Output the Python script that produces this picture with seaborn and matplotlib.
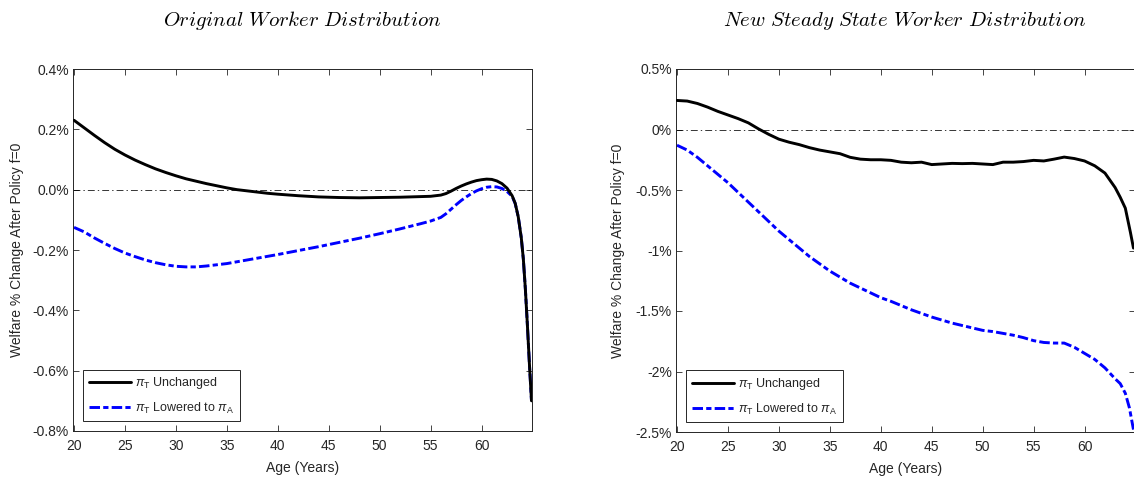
import numpy as np
import pandas as pd
import matplotlib
matplotlib.use("Agg")
import matplotlib.pyplot as plt
from matplotlib.ticker import FixedLocator, FixedFormatter
import seaborn as sns

# ---------------- data ----------------
left_black_age = [20, 21, 22, 23, 24, 25, 26, 27, 28, 29, 30, 31, 32, 33, 34, 35, 36, 37, 38, 39,
                  40, 42, 44, 46, 48, 50, 52, 54, 55, 56, 56.5, 57, 57.5, 58, 58.5, 59, 59.5, 60,
                  60.5, 61, 61.5, 62, 62.5, 63, 63.3, 63.6, 63.9, 64.1, 64.3, 64.5, 64.7, 64.9]
left_black_val = [0.230, 0.205, 0.180, 0.156, 0.134, 0.115, 0.098, 0.083, 0.069, 0.057, 0.046,
                  0.036, 0.028, 0.020, 0.013, 0.006, 0.000, -0.004, -0.008, -0.012, -0.015,
                  -0.020, -0.024, -0.026, -0.027, -0.026, -0.025, -0.023, -0.022, -0.018, -0.013,
                  -0.005, 0.004, 0.012, 0.019, 0.025, 0.030, 0.033, 0.035, 0.034, 0.029, 0.020,
                  0.005, -0.020, -0.045, -0.090, -0.160, -0.230, -0.330, -0.450, -0.580, -0.700]

left_blue_age = [20, 21, 22, 23, 24, 25, 26, 27, 28, 29, 30, 31, 32, 33, 34, 35, 36, 38, 40, 42,
                 44, 46, 48, 50, 52, 54, 55, 56, 56.5, 57, 57.5, 58, 58.5, 59, 59.5, 60, 60.5,
                 61, 61.5, 62, 62.5, 63, 63.3, 63.6, 63.9, 64.1, 64.3, 64.5, 64.7, 64.9]
left_blue_val = [-0.125, -0.140, -0.160, -0.178, -0.195, -0.210, -0.222, -0.233, -0.242, -0.249,
                 -0.254, -0.256, -0.256, -0.253, -0.249, -0.245, -0.239, -0.227, -0.215, -0.202,
                 -0.189, -0.175, -0.161, -0.146, -0.130, -0.113, -0.104, -0.092, -0.080, -0.065,
                 -0.050, -0.036, -0.024, -0.013, -0.004, 0.003, 0.008, 0.010, 0.009, 0.004,
                 -0.006, -0.022, -0.046, -0.090, -0.160, -0.230, -0.330, -0.450, -0.580, -0.700]

right_black_age = [20, 21, 22, 23, 24, 25, 26, 27, 27.5, 28, 29, 30, 31, 32, 33, 34, 35, 36, 37,
                   38, 39, 40, 41, 42, 43, 44, 45, 46, 47, 48, 49, 50, 51, 52, 53, 54, 55, 56,
                   57, 58, 59, 60, 61, 62, 62.5, 63, 63.5, 64, 64.5, 64.8]
right_black_val = [0.240, 0.235, 0.215, 0.185, 0.150, 0.120, 0.090, 0.055, 0.030, 0.005, -0.040,
                   -0.080, -0.105, -0.125, -0.150, -0.170, -0.185, -0.200, -0.230, -0.245,
                   -0.250, -0.250, -0.255, -0.270, -0.275, -0.270, -0.290, -0.285, -0.280,
                   -0.282, -0.280, -0.285, -0.290, -0.270, -0.270, -0.265, -0.255, -0.260,
                   -0.245, -0.228, -0.240, -0.260, -0.300, -0.360, -0.420, -0.480, -0.560,
                   -0.650, -0.850, -0.980]

right_blue_age = [20, 21, 22, 23, 24, 25, 26, 27, 28, 29, 30, 31, 32, 33, 34, 35, 36, 37, 38, 39,
                  40, 41, 42, 43, 44, 45, 46, 47, 48, 49, 50, 51, 52, 53, 54, 55, 56, 57, 58,
                  59, 60, 61, 62, 63, 63.5, 64, 64.4, 64.8]
right_blue_val = [-0.130, -0.170, -0.230, -0.300, -0.370, -0.440, -0.520, -0.600, -0.680, -0.760,
                  -0.840, -0.910, -0.980, -1.050, -1.110, -1.170, -1.220, -1.270, -1.310, -1.350,
                  -1.390, -1.420, -1.455, -1.490, -1.520, -1.550, -1.575, -1.600, -1.620, -1.640,
                  -1.660, -1.670, -1.685, -1.700, -1.720, -1.745, -1.760, -1.765, -1.765, -1.800,
                  -1.850, -1.900, -1.970, -2.060, -2.100, -2.180, -2.300, -2.480]

titles = ["Original Worker Distribution", "New Steady State Worker Distribution"]
series_labels = [r"$\pi_{\rm T}$ Unchanged", r"$\pi_{\rm T}$ Lowered to $\pi_{\rm A}$"]
x_ticks = [20, 25, 30, 35, 40, 45, 50, 55, 60]
left_yticks = [0.4, 0.2, 0.0, -0.2, -0.4, -0.6, -0.8]
left_yticklabels = ["0.4%", "0.2%", "0.0%", "-0.2%", "-0.4%", "-0.6%", "-0.8%"]
right_yticks = [0.5, 0.0, -0.5, -1.0, -1.5, -2.0, -2.5]
right_yticklabels = ["0.5%", "0%", "-0.5%", "-1%", "-1.5%", "-2%", "-2.5%"]
ylabel = "Welfare % Change After Policy f=0"
xlabel = "Age (Years)"

# ---------------- style ----------------
sns.set_style("ticks")
plt.rcParams["font.family"] = ["Liberation Sans", "DejaVu Sans"]
plt.rcParams["mathtext.fontset"] = "custom"
plt.rcParams["mathtext.rm"] = "Liberation Sans"
plt.rcParams["mathtext.it"] = "Liberation Sans:italic"
plt.rcParams["mathtext.bf"] = "Liberation Sans:bold"

AX_COL = "#262626"
W, H = 1134, 479
fig = plt.figure(figsize=(W / 100, H / 100), dpi=100)

def px_axes(x0, y0, x1, y1):
    return fig.add_axes([x0 / W, 1 - y1 / H, (x1 - x0) / W, (y1 - y0) / H])

ax_l = px_axes(73, 69, 532, 431)
ax_r = px_axes(676, 69, 1135, 432)

blue_ls = (0, (3.6, 1.1, 1.8, 1.1))
zero_ls = (0, (9, 4, 1.8, 4))

panels = [
    (ax_l, left_black_age, left_black_val, left_blue_age, left_blue_val,
     (-0.8, 0.4), left_yticks, left_yticklabels, -0.107),
    (ax_r, right_black_age, right_black_val, right_blue_age, right_blue_val,
     (-2.5, 0.5), right_yticks, right_yticklabels, -0.112),
]

for ax, bx, by, ux, uy, ylim, yt, ytl, ylab_x in panels:
    ax.axhline(0, color="black", lw=0.55, linestyle=zero_ls, zorder=1)
    df_b = pd.DataFrame({"age": bx, "val": by})
    df_u = pd.DataFrame({"age": ux, "val": uy})
    sns.lineplot(data=df_b, x="age", y="val", ax=ax, color="black", lw=2.1,
                 label=series_labels[0], zorder=3)
    sns.lineplot(data=df_u, x="age", y="val", ax=ax, color="#0000ff", lw=2.1,
                 linestyle=blue_ls, label=series_labels[1], zorder=2)
    ax.set_xlim(19.9, 64.95)
    ax.set_ylim(*ylim)
    ax.xaxis.set_major_locator(FixedLocator(x_ticks))
    ax.xaxis.set_major_formatter(FixedFormatter([str(t) for t in x_ticks]))
    ax.yaxis.set_major_locator(FixedLocator(yt))
    ax.yaxis.set_major_formatter(FixedFormatter(ytl))
    ax.tick_params(direction="in", length=4, width=0.6, colors=AX_COL, labelsize=10,
                   top=True, right=True, pad=3)
    ax.tick_params(axis="x", pad=6)
    for s in ax.spines.values():
        s.set_color(AX_COL)
        s.set_linewidth(0.7)
        s.set_visible(True)
    ax.set_xlabel(xlabel, fontsize=10, color=AX_COL)
    ax.set_ylabel(ylabel, fontsize=10, color=AX_COL)
    ax.xaxis.set_label_coords(0.5, -0.082)
    ax.yaxis.set_label_coords(ylab_x, 0.5)
    leg = ax.legend(loc="lower left", bbox_to_anchor=(0.022, 0.027), fontsize=9,
                    handlelength=3.4, frameon=True, fancybox=False, framealpha=1,
                    borderpad=0.45, labelspacing=0.75, handletextpad=0.3,
                    borderaxespad=0)
    leg.get_frame().set_edgecolor(AX_COL)
    leg.get_frame().set_linewidth(0.7)
    ax.set_facecolor("white")

fig.text(302 / W, 1 - 20 / H, r"$\mathit{Original\ Worker\ Distribution}$",
         ha="center", va="center", fontsize=15, math_fontfamily="cm", color="black")
fig.text(905 / W, 1 - 20 / H, r"$\mathit{New\ Steady\ State\ Worker\ Distribution}$",
         ha="center", va="center", fontsize=15, math_fontfamily="cm", color="black")

fig.savefig("out.png", dpi=100, facecolor="white")
